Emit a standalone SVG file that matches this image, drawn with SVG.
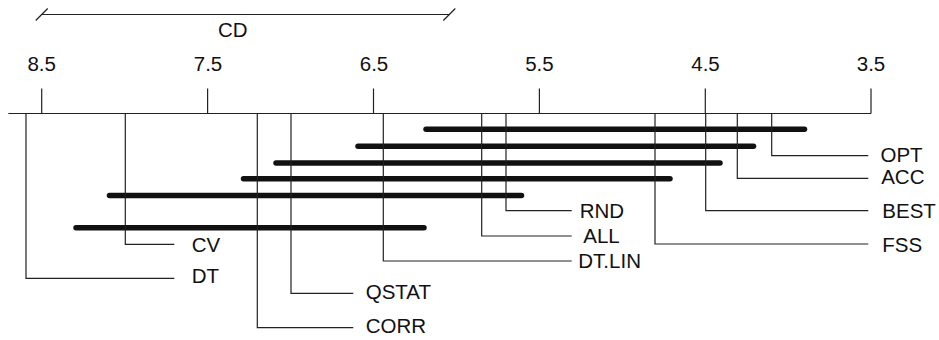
<svg xmlns="http://www.w3.org/2000/svg" width="939" height="340" viewBox="0 0 939 340">
<style>
.ln{stroke:#222;stroke-width:1.2;fill:none}
.bar{stroke:#111;stroke-width:5.5;stroke-linecap:round;fill:none}
text{font-family:"Liberation Sans",Arial,sans-serif;font-size:20.5px;fill:#111}
.mid{text-anchor:middle}
</style>
<rect width="939" height="340" fill="#fff"/>
<g id="cd">
<path class="ln" d="M41.7 14.5H449.3M35.7 20.5L47.7 8.5M443.3 20.5L455.3 8.5"/>
<text class="mid" x="232.8" y="37.3">CD</text>
</g>
<g id="axis">
<path class="ln" d="M8.3 113.5H871M41.7 88.5V113.5M207.6 88.5V113.5M373.5 88.5V113.5M539.4 88.5V113.5M705.3 88.5V113.5M871 88.5V113.5"/>
<text class="mid" x="41.7" y="71">8.5</text>
<text class="mid" x="208" y="71">7.5</text>
<text class="mid" x="374" y="71">6.5</text>
<text class="mid" x="539.4" y="71">5.5</text>
<text class="mid" x="705.5" y="71">4.5</text>
<text class="mid" x="871" y="71">3.5</text>
</g>
<g id="connectors">
<line class="bar" x1="426" y1="129.3" x2="804.5" y2="129.3"/>
<line class="bar" x1="358" y1="146.3" x2="753.5" y2="146.3"/>
<line class="bar" x1="276" y1="163" x2="720" y2="163"/>
<line class="bar" x1="243.5" y1="178.7" x2="670" y2="178.7"/>
<line class="bar" x1="109.5" y1="195.5" x2="521.5" y2="195.5"/>
<line class="bar" x1="76" y1="227.7" x2="424" y2="227.7"/>
</g>
<g id="DT"><path class="ln" d="M26 113.5V278.3H174.3"/><text x="191.7" y="283.3">DT</text></g>
<g id="CV"><path class="ln" d="M125.3 113.5V244.3H174.3"/><text x="191.7" y="251.7">CV</text></g>
<g id="CORR"><path class="ln" d="M257.3 113.5V327.7H353.3"/><text x="365.7" y="333.3">CORR</text></g>
<g id="QSTAT"><path class="ln" d="M291 113.5V293.3H353.3"/><text x="365.7" y="299.3">QSTAT</text></g>
<g id="DT.LIN"><path class="ln" d="M383.3 113.5V261H571.7"/><text x="578.3" y="268.3">DT.LIN</text></g>
<g id="ALL"><path class="ln" d="M481.7 113.5V236H571.7"/><text x="583.3" y="242.7">ALL</text></g>
<g id="RND"><path class="ln" d="M506 113.5V210.7H571.7"/><text x="579.7" y="218.3">RND</text></g>
<g id="FSS"><path class="ln" d="M655 113.5V244H868.3"/><text x="882.3" y="251.7">FSS</text></g>
<g id="BEST"><path class="ln" d="M705.7 113.5V210.7H868.3"/><text x="882.3" y="218.3">BEST</text></g>
<g id="ACC"><path class="ln" d="M737.3 113.5V178.3H868.3"/><text x="881.2" y="184.3">ACC</text></g>
<g id="OPT"><path class="ln" d="M771.7 113.5V155.7H868.3"/><text x="880.5" y="161.7">OPT</text></g>
</svg>
